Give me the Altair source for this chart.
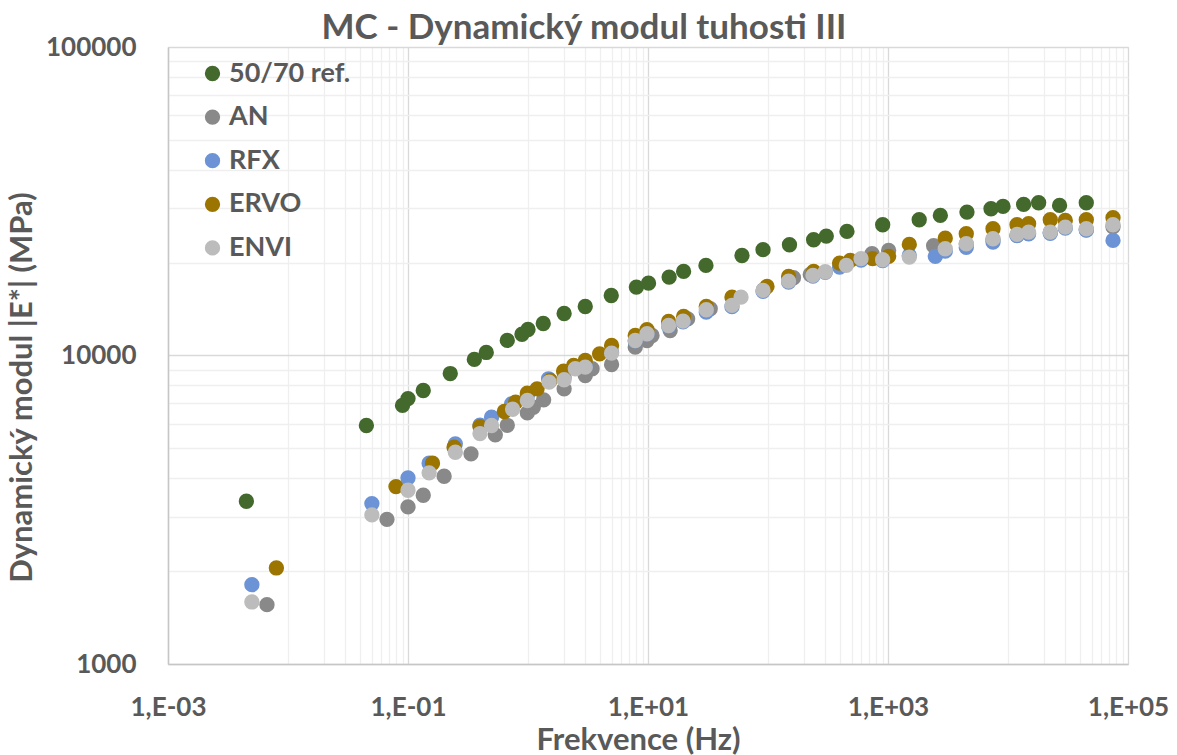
import altair as alt
import pandas as pd

# Series order (later series are drawn on top)
series_names = ["50/70 ref.", "AN", "RFX", "ERVO", "ENVI"]
series_colors = ["#44692C", "#898989", "#6C93D5", "#9C7500", "#BCBCBC"]

# 50/70 reference binder: frequency (Hz) and |E*| (MPa)
ref_f = [0.0045, 0.045, 0.09, 0.1, 0.134, 0.225, 0.357, 0.449, 0.672, 0.891,
         1.0, 1.34, 2.0, 3.0, 4.94, 8.0, 10.1, 15.0, 19.8, 30.4,
         60.7, 90.9, 151, 240, 306, 455, 903, 1820, 2730, 4550,
         7220, 9090, 13500, 18000, 26900, 44900]
ref_E = [3370, 5930, 6890, 7250, 7700, 8740, 9710, 10230, 11190, 11720,
         12140, 12700, 13680, 14420, 15650, 16660, 17160, 17950, 18730, 19590,
         21100, 22030, 22860, 23730, 24380, 25250, 26540, 27550, 28450, 29160,
         29910, 30430, 30890, 31280, 30650, 31280]

# AN
an_f = [0.00668, 0.0668, 0.1, 0.134, 0.2, 0.335, 0.534, 0.672, 0.987, 1.107,
        1.35, 2.0, 3.0, 3.42, 4.97, 7.83, 9.81, 10.8, 15.3, 21.4,
        33.0, 91.9, 163, 225, 400, 736, 1012, 2400, 4490, 7500,
        11890, 22510, 44930, 75000]
an_E = [1557, 2944, 3231, 3524, 4060, 4800, 5531, 5941, 6519, 6798,
        7184, 7799, 8611, 9056, 9350, 10640, 11186, 11612, 12053, 13150,
        14180, 16330, 17870, 18310, 19740, 21370, 21910, 22690, 22970, 23780,
        24510, 25060, 25570, 26150]

# RFX
rfx_f = [0.005, 0.05, 0.1, 0.15, 0.248, 0.398, 0.497, 0.73, 0.987, 1.485,
         2.0, 3.0, 4.97, 7.83, 9.81, 14.85, 19.6, 30.6, 50.1, 90.9,
         148.5, 237, 300, 395, 596, 902, 1505, 2480, 3000, 4490,
         7500, 11890, 14850, 22510, 30030, 44930, 75000]
rfx_E = [1808, 3311, 4012, 4474, 5171, 5941, 6307, 6973, 7400, 8404,
         8500, 9200, 10250, 11150, 11700, 12450, 12850, 13820, 14400, 16150,
         17300, 18100, 18600, 19340, 20400, 20300, 21100, 20950, 21790, 22400,
         23310, 24490, 24800, 24900, 25870, 25500, 23610]

# ERVO
ervo_f = [0.008, 0.0794, 0.16, 0.242, 0.398, 0.635, 0.788, 0.987, 1.19, 1.53,
          1.98, 2.4, 3.0, 3.95, 4.97, 7.83, 9.81, 14.85, 19.8, 30.6,
          50.1, 98.1, 148.5, 240, 395, 485, 744, 1012, 1505, 3000,
          4490, 7500, 11890, 14850, 22510, 30030, 44930, 75000]
ervo_E = [2048, 3760, 4474, 5042, 5884, 6584, 7056, 7546, 7799, 8298,
          8894, 9282, 9634, 10127, 10776, 11612, 12117, 12890, 13380, 14420,
          15460, 16740, 18040, 18730, 19930, 20330, 20600, 20950, 22910, 24010,
          24810, 25760, 26540, 26740, 27550, 27410, 27550, 27960]

# ENVI
envi_f = [0.005, 0.05, 0.1, 0.15, 0.248, 0.398, 0.497, 0.744, 0.987, 1.5,
          2.0, 2.48, 3.0, 4.97, 7.83, 9.81, 14.85, 19.6, 30.6, 50.1,
          59.6, 90.9, 148.5, 237, 300, 449, 596, 902, 1505, 3000,
          4490, 7500, 11890, 14850, 22510, 30030, 44930, 75000]
envi_E = [1589, 3043, 3657, 4165, 4857, 5585, 5929, 6697, 7145, 8194,
          8342, 9056, 9164, 10173, 11186, 11760, 12510, 12920, 14070, 14530,
          15460, 16250, 17420, 18180, 18690, 19590, 20600, 20440, 20840, 22190,
          23030, 23900, 24690, 25120, 25120, 26080, 25760, 26540]

# Axis ticks and gridlines
x_major = [1e-3, 1e-1, 1e1, 1e3, 1e5]
x_minor = [k * 10.0 ** n for n in (-2, 0, 2, 4) for k in range(1, 10)]
y_major = [1000, 10000, 100000]
y_minor = [k * 10 ** n for n in (3, 4) for k in range(2, 10)]

rows = []
for name, fs, es in zip(series_names,
                        [ref_f, an_f, rfx_f, ervo_f, envi_f],
                        [ref_E, an_E, rfx_E, ervo_E, envi_E]):
    for f, e in zip(fs, es):
        rows.append({"serie": name, "f": f, "E": e, "poradi": len(rows)})
df = pd.DataFrame(rows)

FONT = "Lato"
TXT = "#595959"

xs = alt.Scale(type="log", domain=[0.001, 100000], nice=False)
ys = alt.Scale(type="log", domain=[1000, 100000], nice=False)

x_label_expr = ("'1,E' + (datum.value < 1 ? '-' : '+') + "
                "pad(toString(abs(round(log(datum.value) / LN10))), 2, '0', 'left')")

# Light minor gridlines on a hidden top/right axis pair
minor = alt.Chart(df).mark_circle(opacity=0).encode(
    x=alt.X("f:Q", scale=xs, axis=alt.Axis(
        orient="top", values=x_minor, grid=True, gridColor="#EFEFEF",
        gridWidth=1.3, labels=False, ticks=False, domain=False, title=None)),
    y=alt.Y("E:Q", scale=ys, axis=alt.Axis(
        orient="right", values=y_minor, grid=True, gridColor="#EFEFEF",
        gridWidth=1.3, labels=False, ticks=False, domain=False, title=None)),
)

points = alt.Chart(df).mark_circle(size=235, opacity=1).encode(
    x=alt.X("f:Q", scale=xs, axis=alt.Axis(
        values=x_major, labelExpr=x_label_expr, grid=True, gridColor="#D9D9D9",
        gridWidth=1.3, domainColor="#C6C6C6", domainWidth=1.5, ticks=False,
        tickSize=0, labelPadding=30, labelFont=FONT, labelFontSize=26,
        labelFontWeight="bold", labelColor=TXT, labelFlush=False,
        title="Frekvence (Hz)", titleFont=FONT, titleFontSize=31,
        titleFontWeight="bold", titleColor=TXT, titleX=470, titleY=76,
        titleBaseline="middle", titleAlign="center")),
    y=alt.Y("E:Q", scale=ys, axis=alt.Axis(
        values=y_major, format="d", grid=True, gridColor="#D9D9D9",
        gridWidth=1.3, domainColor="#C6C6C6", domainWidth=1.5, ticks=False,
        tickSize=0, labelPadding=32, labelFont=FONT, labelFontSize=26,
        labelFontWeight="bold", labelColor=TXT, labelFlush=False,
        title="Dynamický modul |E*|  (MPa)", titleFont=FONT, titleFontSize=31,
        titleFontWeight="bold", titleColor=TXT, titleX=-146, titleY=340,
        titleAngle=270, titleBaseline="middle", titleAlign="center")),
    color=alt.Color("serie:N",
                    scale=alt.Scale(domain=series_names, range=series_colors),
                    legend=alt.Legend(
                        title=None, orient="none", legendX=31, legendY=13,
                        symbolType="circle", symbolSize=235, symbolStrokeWidth=0,
                        labelFont=FONT, labelFontSize=27, labelFontWeight="bold",
                        labelColor=TXT, rowPadding=15.6, labelOffset=3)),
    order=alt.Order("poradi:Q"),
)

chart = alt.layer(minor, points).resolve_axis(
    x="independent", y="independent"
).properties(
    width=960,
    height=617,
    autosize=alt.AutoSizeParams(type="none"),
    padding={"left": 168, "top": 47, "right": 49, "bottom": 91},
    title=alt.TitleParams(
        text="MC - Dynamický modul tuhosti III", font=FONT, fontSize=35,
        fontWeight="bold", color=TXT, anchor="middle", frame="group",
        dx=-64, dy=48, offset=8, baseline="alphabetic"),
).configure_view(
    stroke="#D9D9D9", strokeWidth=1.3
).configure(background="white")

chart.save("out.html", embed_options={"renderer": "svg", "actions": False})
